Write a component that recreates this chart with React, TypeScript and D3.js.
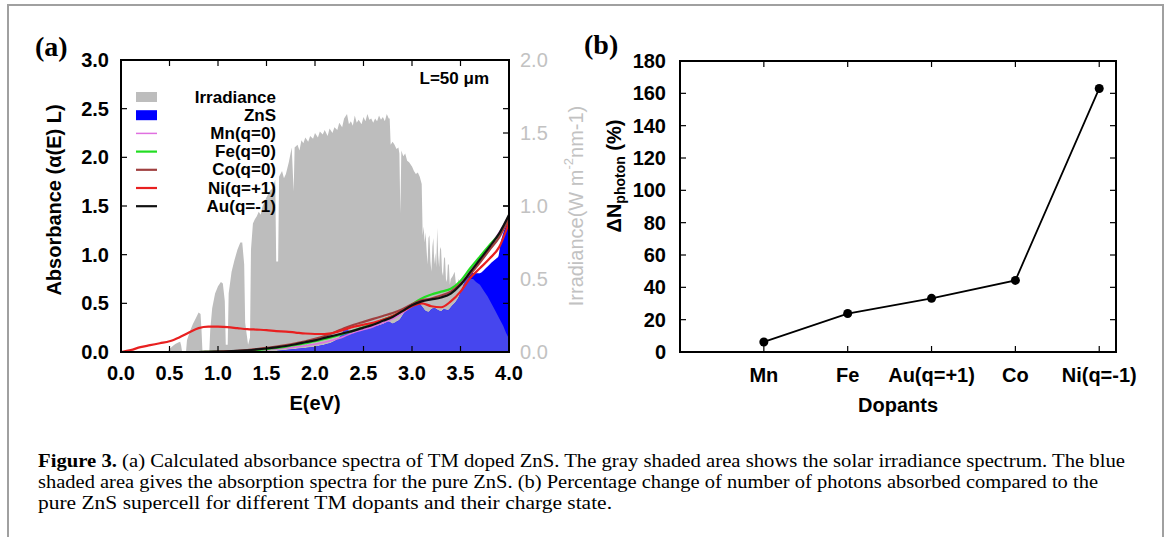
import React from "react";
import * as d3 from "d3";

// ---------- Panel (a) data ----------
// Solar irradiance (W m^-2 nm^-1) vs photon energy (eV)
const E_IRR = [0.48,0.50,0.53,0.56,0.59,0.61,0.62,0.63,0.67,0.68,0.71,0.74,0.77,0.80,0.82,0.83,0.84,0.91,0.92,0.94,0.97,1.00,1.03,1.05,1.07,1.08,1.10,1.11,1.14,1.17,1.20,1.23,1.25,1.27,1.28,1.31,1.33,1.34,1.36,1.38,1.40,1.42,1.44,1.46,1.48,1.50,1.53,1.56,1.59,1.60,1.62,1.63,1.66,1.68,1.70,1.73,1.76,1.78,1.79,1.82,1.84,1.86,1.88,1.90,1.93,1.95,1.98,2.00,2.03,2.05,2.08,2.10,2.13,2.15,2.18,2.20,2.23,2.25,2.28,2.30,2.33,2.35,2.37,2.39,2.41,2.43,2.45,2.48,2.50,2.52,2.54,2.56,2.58,2.60,2.62,2.64,2.66,2.68,2.70,2.72,2.74,2.76,2.77,2.78,2.80,2.82,2.84,2.86,2.87,2.88,2.89,2.91,2.93,2.95,2.97,3.00,3.02,3.04,3.06,3.08,3.10,3.11,3.12,3.13,3.14,3.15,3.16,3.17,3.18,3.19,3.20,3.21,3.22,3.23,3.24,3.25,3.26,3.27,3.28,3.29,3.30,3.31,3.32,3.33,3.34,3.35,3.36,3.37,3.38,3.39,3.40,3.42,3.44,3.46,3.48,3.50,3.53,3.56,3.60,3.63,3.66,3.70,3.74,3.78,3.82,3.86,3.90,3.94,3.97,4.00];
const IRR = [0,0.02,0.04,0.055,0.065,0.07,0.045,0,0,0.08,0.14,0.19,0.23,0.27,0.26,0.15,0,0,0.15,0.30,0.40,0.45,0.48,0.47,0.35,0.05,0.05,0.40,0.55,0.63,0.70,0.75,0.75,0.60,0.20,0.05,0.10,0.70,0.88,0.91,0.93,0.96,0.94,1.00,1.03,1.06,1.10,1.12,1.18,0.62,0.62,1.20,1.24,1.19,1.22,1.30,1.40,1.10,1.40,1.42,1.38,1.45,1.43,1.47,1.44,1.48,1.46,1.50,1.47,1.51,1.49,1.52,1.48,1.53,1.50,1.54,1.52,1.57,1.54,1.60,1.63,1.56,1.58,1.55,1.62,1.57,1.59,1.56,1.61,1.58,1.63,1.59,1.60,1.57,1.60,1.58,1.62,1.59,1.61,1.58,1.63,1.60,1.60,1.42,1.44,1.42,1.39,1.40,1.36,0.95,1.38,1.34,1.36,1.31,1.30,1.27,1.24,1.22,1.23,1.20,1.15,0.80,0.86,0.75,0.82,0.70,0.60,0.78,0.80,0.62,0.55,0.72,0.78,0.60,0.68,0.58,0.85,0.66,0.58,0.72,0.70,0.55,0.52,0.64,0.65,0.50,0.48,0.60,0.60,0.46,0.50,0.52,0.55,0.42,0.50,0.47,0.48,0.52,0.50,0.50,0.48,0.46,0.42,0.38,0.33,0.28,0.23,0.18,0.13,0.09,0.06];

// Pure ZnS absorbance
const E_ZNS = [0.0,1.5,1.6,1.7,1.8,1.9,2.0,2.1,2.2,2.25,2.28,2.31,2.33,2.36,2.40,2.45,2.50,2.55,2.60,2.65,2.70,2.73,2.76,2.80,2.84,2.88,2.92,2.96,3.00,3.05,3.10,3.14,3.17,3.20,3.23,3.27,3.30,3.33,3.37,3.41,3.44,3.48,3.52,3.56,3.60,3.65,3.70,3.76,3.82,3.87,3.89,3.91,3.94,3.97,4.0];
const ZNS = [0,0,0.01,0.02,0.03,0.04,0.055,0.075,0.11,0.15,0.19,0.24,0.24,0.20,0.205,0.22,0.235,0.25,0.26,0.27,0.285,0.30,0.31,0.29,0.31,0.34,0.40,0.46,0.50,0.51,0.47,0.42,0.41,0.44,0.45,0.43,0.42,0.44,0.43,0.47,0.50,0.56,0.66,0.76,0.82,0.81,0.81,0.86,0.92,0.96,0.98,1.10,1.22,1.30,1.38];

// Doped absorbance curves
const E_LINE = [0.0,0.1,0.2,0.3,0.4,0.5,0.6,0.7,0.8,0.9,1.0,1.1,1.2,1.3,1.4,1.5,1.6,1.7,1.8,1.9,2.0,2.1,2.2,2.3,2.4,2.5,2.6,2.7,2.8,2.9,3.0,3.1,3.2,3.3,3.4,3.5,3.6,3.7,3.8,3.9,4.0];
const MN = [0,0,0,0,0,0,0,0,0,0,0.001,0.003,0.006,0.01,0.015,0.022,0.03,0.04,0.052,0.065,0.08,0.10,0.125,0.16,0.20,0.23,0.26,0.30,0.34,0.40,0.47,0.53,0.55,0.58,0.62,0.71,0.83,0.96,1.09,1.23,1.40];
const FE = [0,0,0,0,0,0,0,0,0,0.001,0.002,0.004,0.008,0.013,0.02,0.03,0.042,0.056,0.072,0.09,0.11,0.135,0.16,0.19,0.22,0.255,0.29,0.33,0.37,0.42,0.49,0.55,0.59,0.62,0.65,0.73,0.86,0.98,1.10,1.21,1.36];
const CO = [0,0,0,0,0,0,0,0,0,0.002,0.004,0.008,0.013,0.02,0.03,0.042,0.056,0.072,0.09,0.11,0.135,0.165,0.20,0.245,0.28,0.31,0.34,0.37,0.40,0.44,0.49,0.53,0.55,0.58,0.62,0.70,0.80,0.92,1.05,1.18,1.38];
const NI = [0,0.02,0.05,0.07,0.09,0.11,0.15,0.20,0.245,0.26,0.26,0.255,0.245,0.235,0.23,0.225,0.215,0.21,0.20,0.19,0.185,0.185,0.20,0.23,0.26,0.28,0.30,0.33,0.37,0.42,0.47,0.50,0.47,0.46,0.52,0.62,0.76,0.86,0.96,1.08,1.33];
const AU = [0,0,0,0,0,0,0,0,0,0.002,0.004,0.007,0.012,0.018,0.026,0.036,0.048,0.062,0.08,0.10,0.12,0.145,0.17,0.195,0.22,0.25,0.28,0.32,0.36,0.42,0.48,0.52,0.54,0.56,0.60,0.69,0.82,0.95,1.08,1.22,1.41];

const X_TICKS_A = [0, 0.5, 1, 1.5, 2, 2.5, 3, 3.5, 4];
const Y_TICKS_A = [0, 0.5, 1, 1.5, 2, 2.5, 3];
const Y2_TICKS_A = [0, 0.5, 1, 1.5, 2];

const LEGEND_LINES = ["Mn(q=0)", "Fe(q=0)", "Co(q=0)", "Ni(q=+1)", "Au(q=-1)"];
const LINE_COLORS = ["#e070e0", "#22dd22", "#a04040", "#e82020", "#111111"];
const LINE_WIDTHS = [1.5, 2.2, 2.2, 2.2, 2.2];

// ---------- Panel (b) data ----------
const DOPANTS = ["Mn", "Fe", "Au(q=+1)", "Co", "Ni(q=-1)"];
const DELTA_N = [6.2, 23.8, 33.2, 44.3, 163];
const Y_TICKS_B = [0, 20, 40, 60, 80, 100, 120, 140, 160, 180];

const SANS = "'Liberation Sans', Arial, Helvetica, sans-serif";
const SERIF = "'Liberation Serif', 'Times New Roman', serif";

export default function App() {
  // panel a scales
  const xa = d3.scaleLinear().domain([0, 4]).range([121, 509]);
  const ya = d3.scaleLinear().domain([0, 3]).range([352, 60]);
  const ya2 = d3.scaleLinear().domain([0, 2]).range([352, 60]);

  const irrPts = E_IRR.map((e, i) => [e, IRR[i]] as [number, number]);
  const irrArea = d3.area<[number, number]>()
    .x((d) => xa(d[0])).y0(ya2(0)).y1((d) => ya2(d[1]));
  const znsPts = E_ZNS.map((e, i) => [e, ZNS[i]] as [number, number]);
  const znsArea = d3.area<[number, number]>()
    .x((d) => xa(d[0])).y0(ya(0)).y1((d) => ya(d[1])).curve(d3.curveMonotoneX);

  const series = [MN, FE, CO, NI, AU];
  const line = d3.line<[number, number]>()
    .x((d) => xa(d[0])).y((d) => ya(d[1])).curve(d3.curveMonotoneX);

  // panel b scales
  const xb = d3.scaleLinear().domain([0, 5.2]).range([680, 1116]);
  const yb = d3.scaleLinear().domain([0, 180]).range([352, 61]);
  const bPts = DELTA_N.map((v, i) => [i + 1, v] as [number, number]);
  const bLine = d3.line<[number, number]>().x((d) => xb(d[0])).y((d) => yb(d[1]));

  const tickLen = 6;
  const legendY0 = 97;
  const legendStep = 18.2;

  return (
    <svg width={1171} height={537} style={{ position: "absolute", left: 0, top: 0 }}>
      <rect x={0} y={0} width={1171} height={537} fill="#ffffff" />
      {/* outer frame (open at bottom) */}
      <path d="M8,545 V5 H1163 V545" fill="none" stroke="#a0a0a0" strokeWidth={2} />

      <defs>
        <clipPath id="clipA">
          <rect x={121} y={60} width={388} height={292} />
        </clipPath>
        <clipPath id="znsClip">
          <path d={znsArea(znsPts) || ""} />
        </clipPath>
      </defs>

      {/* ================= Panel (a) ================= */}
      <text x={35} y={56} fontFamily={SERIF} fontWeight="bold" fontSize={28}>(a)</text>
      <g clipPath="url(#clipA)">
        <path d={irrArea(irrPts) || ""} fill="#bdbdbd" />
        <path d={znsArea(znsPts) || ""} fill="#0000ff" />
        <g clipPath="url(#znsClip)">
          <path d={irrArea(irrPts) || ""} fill="#4646ee" />
        </g>
        {series.map((s, k) => (
          <path key={k}
            d={line(E_LINE.map((e, i) => [e, s[i]] as [number, number])) || ""}
            fill="none" stroke={LINE_COLORS[k]} strokeWidth={LINE_WIDTHS[k]} />
        ))}
      </g>

      {/* frame a */}
      <rect x={121} y={60} width={388} height={292} fill="none" stroke="#000" strokeWidth={2} />
      {X_TICKS_A.map((t) => (
        <g key={"xa" + t}>
          <line x1={xa(t)} x2={xa(t)} y1={352} y2={352 - tickLen} stroke="#000" strokeWidth={1.2} />
          <line x1={xa(t)} x2={xa(t)} y1={60} y2={60 + tickLen} stroke="#000" strokeWidth={1.2} />
          <text x={xa(t)} y={373} textAnchor="middle" dominantBaseline="central"
            fontFamily={SANS} fontWeight="bold" fontSize={20}>{t.toFixed(1)}</text>
        </g>
      ))}
      {Y_TICKS_A.map((t) => (
        <g key={"ya" + t}>
          <line x1={121} x2={121 + tickLen} y1={ya(t)} y2={ya(t)} stroke="#000" strokeWidth={1.2} />
          <line x1={509} x2={509 - tickLen} y1={ya(t)} y2={ya(t)} stroke="#000" strokeWidth={1.2} />
          <text x={109} y={ya(t)} textAnchor="end" dominantBaseline="central"
            fontFamily={SANS} fontWeight="bold" fontSize={20}>{t.toFixed(1)}</text>
        </g>
      ))}
      {Y2_TICKS_A.map((t) => (
        <g key={"y2a" + t}>
          <line x1={509} x2={509 - tickLen} y1={ya2(t)} y2={ya2(t)} stroke="#000" strokeWidth={1.2} />
          <text x={520} y={ya2(t)} textAnchor="start" dominantBaseline="central"
            fontFamily={SANS} fontSize={20} fill="#c2c2c2">{t.toFixed(1)}</text>
        </g>
      ))}
      <text x={315} y={403} textAnchor="middle" dominantBaseline="central"
        fontFamily={SANS} fontWeight="bold" fontSize={20}>E(eV)</text>
      <text transform="translate(54,200) rotate(-90)" textAnchor="middle" dominantBaseline="central"
        fontFamily={SANS} fontWeight="bold" fontSize={20}>Absorbance (α(E) L)</text>
      <text transform="translate(576,206) rotate(-90)" textAnchor="middle" dominantBaseline="central"
        fontFamily={SANS} fontSize={20} fill="#c2c2c2">
        Irradiance(W m<tspan dy={-8} fontSize={13}>-2</tspan><tspan dy={8}>nm-1)</tspan>
      </text>
      <text x={489} y={78} textAnchor="end" dominantBaseline="central"
        fontFamily={SANS} fontWeight="bold" fontSize={17}>L=50 μm</text>

      {/* legend */}
      <rect x={136} y={legendY0 - 5} width={21} height={10} fill="#bdbdbd" />
      <text x={276} y={legendY0} textAnchor="end" dominantBaseline="central"
        fontFamily={SANS} fontWeight="bold" fontSize={17}>Irradiance</text>
      <rect x={136} y={legendY0 + legendStep - 5} width={21} height={10} fill="#0000ff" />
      <text x={276} y={legendY0 + legendStep} textAnchor="end" dominantBaseline="central"
        fontFamily={SANS} fontWeight="bold" fontSize={17}>ZnS</text>
      {LEGEND_LINES.map((name, k) => {
        const y = legendY0 + legendStep * (k + 2);
        return (
          <g key={name}>
            <line x1={136} x2={157} y1={y} y2={y} stroke={LINE_COLORS[k]} strokeWidth={LINE_WIDTHS[k]} />
            <text x={276} y={y} textAnchor="end" dominantBaseline="central"
              fontFamily={SANS} fontWeight="bold" fontSize={17}>{name}</text>
          </g>
        );
      })}

      {/* ================= Panel (b) ================= */}
      <text x={584} y={54} fontFamily={SERIF} fontWeight="bold" fontSize={28}>(b)</text>
      <rect x={680} y={61} width={436} height={291} fill="none" stroke="#000" strokeWidth={2} />
      {Y_TICKS_B.map((t) => (
        <g key={"yb" + t}>
          <line x1={680} x2={680 + tickLen} y1={yb(t)} y2={yb(t)} stroke="#000" strokeWidth={1.2} />
          <line x1={1116} x2={1116 - tickLen} y1={yb(t)} y2={yb(t)} stroke="#000" strokeWidth={1.2} />
          <text x={666} y={yb(t)} textAnchor="end" dominantBaseline="central"
            fontFamily={SANS} fontWeight="bold" fontSize={20}>{t}</text>
        </g>
      ))}
      {DOPANTS.map((name, i) => (
        <g key={name}>
          <line x1={xb(i + 1)} x2={xb(i + 1)} y1={352} y2={352 - tickLen} stroke="#000" strokeWidth={1.2} />
          <line x1={xb(i + 1)} x2={xb(i + 1)} y1={61} y2={61 + tickLen} stroke="#000" strokeWidth={1.2} />
          <text x={xb(i + 1)} y={375} textAnchor="middle" dominantBaseline="central"
            fontFamily={SANS} fontWeight="bold" fontSize={20}>{name}</text>
        </g>
      ))}
      <path d={bLine(bPts) || ""} fill="none" stroke="#000" strokeWidth={1.8} />
      {bPts.map((p, i) => (
        <circle key={i} cx={xb(p[0])} cy={yb(p[1])} r={4.5} fill="#000" />
      ))}
      <text x={898} y={405} textAnchor="middle" dominantBaseline="central"
        fontFamily={SANS} fontWeight="bold" fontSize={20}>Dopants</text>
      <text transform="translate(614,176) rotate(-90)" textAnchor="middle" dominantBaseline="central"
        fontFamily={SANS} fontWeight="bold" fontSize={20}>
        ΔN<tspan dy={6} fontSize={14}>photon</tspan><tspan dy={-6}> (%)</tspan>
      </text>

      {/* ================= Caption ================= */}
      <text x={38} y={467} fontFamily={SERIF} fontSize={19} textLength={1087} lengthAdjust="spacingAndGlyphs">
        <tspan fontWeight="bold">Figure 3.</tspan> (a) Calculated absorbance spectra of TM doped ZnS. The gray shaded area shows the solar irradiance spectrum. The blue
      </text>
      <text x={38} y={488} fontFamily={SERIF} fontSize={19} textLength={1060} lengthAdjust="spacingAndGlyphs">
        shaded area gives the absorption spectra for the pure ZnS. (b) Percentage change of number of photons absorbed compared to the
      </text>
      <text x={38} y={509} fontFamily={SERIF} fontSize={19} textLength={574} lengthAdjust="spacingAndGlyphs">
        pure ZnS supercell for different TM dopants and their charge state.
      </text>
    </svg>
  );
}
